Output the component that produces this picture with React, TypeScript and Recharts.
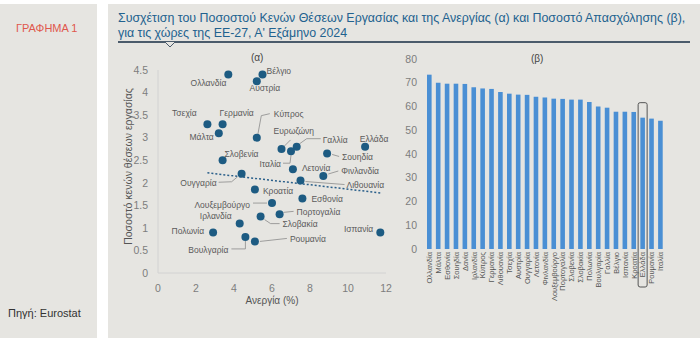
import React from 'react'
import {
  ScatterChart, Scatter, XAxis, YAxis, ReferenceLine,
  BarChart, Bar,
} from 'recharts'

// (α) job vacancy rate vs unemployment
const COUNTRIES = [
  'Ολλανδία', 'Βέλγιο', 'Αυστρία', 'Τσεχία', 'Γερμανία', 'Μάλτα', 'Κύπρος',
  'Ευρωζώνη', 'Γαλλία', 'Ιταλία', 'Λετονία', 'Ελλάδα', 'Σουηδία', 'Σλοβενία',
  'Φινλανδία', 'Ουγγαρία', 'Λιθουανία', 'Κροατία', 'Εσθονία', 'Λουξεμβούργο',
  'Πορτογαλία', 'Σλοβακία', 'Ιρλανδία', 'Πολωνία', 'Ισπανία', 'Βουλγαρία', 'Ρουμανία',
]
const UNEMPLOYMENT = [
  3.7, 5.5, 5.2, 2.6, 3.4, 3.2, 5.2,
  6.5, 7.3, 7.0, 7.1, 10.9, 8.9, 3.4,
  8.7, 4.4, 7.5, 5.1, 7.6, 6.0,
  6.4, 5.4, 4.3, 2.9, 11.7, 4.6, 5.1,
]
const VACANCY = [
  4.4, 4.4, 4.25, 3.3, 3.3, 3.1, 3.0,
  2.75, 2.8, 2.7, 2.3, 2.8, 2.65, 2.5,
  2.15, 2.2, 2.05, 1.85, 1.65, 1.55,
  1.3, 1.25, 1.1, 0.9, 0.9, 0.8, 0.7,
]
const TREND = [
  { x: 2.6, y: 2.22 },
  { x: 11.8, y: 1.77 },
]
const X_TICKS = [0, 2, 4, 6, 8, 10, 12]
const Y_TICKS = [0, 0.5, 1, 1.5, 2, 2.5, 3, 3.5, 4, 4.5]

// (β) employment rate
const BAR_COUNTRIES = [
  'Ολλανδία', 'Μάλτα', 'Εσθονία', 'Σουηδία', 'Δανία', 'Ιρλανδία', 'Κύπρος',
  'Γερμανία', 'Λιθουανία', 'Τσεχία', 'Αυστρία', 'Ουγγαρία', 'Λετονία', 'Φινλανδία',
  'Λουξεμβούργο', 'Πορτογαλία', 'Σλοβενία', 'Σλοβακία', 'Πολωνία', 'Βουλγαρία',
  'Γαλλία', 'Βέλγιο', 'Ισπανία', 'Κροατία', 'Ελλάδα', 'Ρουμανία', 'Ιταλία',
]
const EMPLOYMENT = [
  73.4, 70.0, 69.6, 69.6, 69.5, 68.1, 67.6,
  67.4, 66.1, 65.4, 65.0, 64.9, 64.1, 63.8,
  63.3, 63.2, 62.9, 62.9, 61.9, 60.0,
  59.5, 57.8, 57.8, 57.7, 55.3, 54.9, 54.0,
]
const BAR_TICKS = [0, 10, 20, 30, 40, 50, 60, 70, 80]

const scatterData = COUNTRIES.map((name, i) => ({ name, x: UNEMPLOYMENT[i], y: VACANCY[i] }))
const barData = BAR_COUNTRIES.map((name, i) => ({ name, value: EMPLOYMENT[i] }))

const FONT = '"Liberation Sans", Arial, sans-serif'
const DOT = '#1d5b82'
const BAR = '#4a8fd4'
const PANEL = '#e6e5e1'

type Layout = { dx: number; dy: number; anchor: 'start' | 'middle' | 'end'; leader?: number[][] }

const LABELS: Record<string, Layout> = {
  'Ολλανδία': { dx: -2, dy: 11, anchor: 'end' },
  'Βέλγιο': { dx: 4, dy: -1, anchor: 'start' },
  'Αυστρία': { dx: 8, dy: 9.5, anchor: 'middle' },
  'Τσεχία': { dx: -23, dy: -8, anchor: 'middle' },
  'Γερμανία': { dx: -3, dy: -8, anchor: 'start' },
  'Μάλτα': { dx: -5, dy: 7, anchor: 'end' },
  'Κύπρος': { dx: 17, dy: -21, anchor: 'start', leader: [[1, -3], [4.5, -22], [13, -24]] },
  'Ευρωζώνη': { dx: -8, dy: -15, anchor: 'start', leader: [[3, -3], [9, -9]] },
  'Γαλλία': { dx: 26, dy: -4, anchor: 'start', leader: [[3, -3], [10, -8], [24, -8]] },
  'Ιταλία': { dx: -10, dy: 15.5, anchor: 'end', leader: [[0, 4], [-1, 12], [-8, 12]] },
  'Λετονία': { dx: 9, dy: 2, anchor: 'start' },
  'Ελλάδα': { dx: 9, dy: -4.5, anchor: 'middle' },
  'Σουηδία': { dx: 15, dy: 7, anchor: 'start', leader: [[5, 1], [12, 3]] },
  'Σλοβενία': { dx: 2, dy: -3, anchor: 'start' },
  'Φινλανδία': { dx: 18, dy: -2, anchor: 'start', leader: [[5, -2], [15, -5]] },
  'Ουγγαρία': { dx: -25, dy: 12.7, anchor: 'end', leader: [[-4, 3], [-10, 8], [-23, 8.5]] },
  'Λιθουανία': { dx: 46, dy: 7, anchor: 'start', leader: [[5, 1], [44, 4]] },
  'Κροατία': { dx: 8, dy: 4.5, anchor: 'start' },
  'Εσθονία': { dx: 9, dy: 3, anchor: 'start' },
  'Λουξεμβούργο': { dx: -22, dy: 5, anchor: 'end', leader: [[-5, 0], [-19, 0]] },
  'Πορτογαλία': { dx: 17, dy: 1, anchor: 'start', leader: [[4, -2], [14, -3]] },
  'Σλοβακία': { dx: 22, dy: 10, anchor: 'start', leader: [[4, 3], [10, 7], [19, 7]] },
  'Ιρλανδία': { dx: -24, dy: -4, anchor: 'middle' },
  'Πολωνία': { dx: -9, dy: 1.5, anchor: 'end' },
  'Ισπανία': { dx: -7, dy: 0, anchor: 'end' },
  'Βουλγαρία': { dx: -17, dy: 16, anchor: 'end', leader: [[0, 4], [0, 12], [-14, 12]] },
  'Ρουμανία': { dx: 35, dy: 1, anchor: 'start', leader: [[5, 0], [32, -3]] },
}

function DotShape(props: any) {
  const { cx, cy, payload } = props
  const l = LABELS[payload.name]
  return (
    <g>
      {l && l.leader && (
        <polyline
          points={l.leader.map(p => `${cx + p[0]},${cy + p[1]}`).join(' ')}
          fill="none"
          stroke="#8a8a8a"
          strokeWidth={0.8}
        />
      )}
      <circle cx={cx} cy={cy} r={4} fill={DOT} />
      {l && (
        <text x={cx + l.dx} y={cy + l.dy} textAnchor={l.anchor} fontSize={8.5} fill="#5a5a5a" fontFamily={FONT}>
          {payload.name}
        </text>
      )}
    </g>
  )
}

function BarShape(props: any) {
  const { x, y, width, height, payload } = props
  return (
    <g>
      <rect x={x} y={y} width={width} height={height} fill={BAR} />
      {payload.name === 'Ελλάδα' && (
        <rect
          x={x + width / 2 - 4.5}
          y={y - 15}
          width={9}
          height={height + 53}
          rx={2}
          fill="none"
          stroke="#555"
          strokeWidth={1}
        />
      )}
    </g>
  )
}

function BarTick(props: any) {
  const { x, y, payload } = props
  return (
    <g transform={`translate(${x},${y})`}>
      <text transform="rotate(-90)" textAnchor="end" dy="0.35em" fontSize={7.5} fill="#555" fontFamily={FONT}>
        {payload.value}
      </text>
    </g>
  )
}

const tickStyle = { fontSize: 10.5, fill: '#7d7d7d', fontFamily: FONT }

export default function App() {
  return (
    <div style={{ position: 'absolute', left: 0, top: 0, width: 700, height: 364, background: '#fff', fontFamily: FONT, overflow: 'hidden' }}>
      <div style={{ position: 'absolute', left: 0, top: 4, width: 97, height: 334, background: PANEL }} />
      <div style={{ position: 'absolute', left: 108, top: 4, width: 592, height: 334, background: PANEL }} />

      <div style={{ position: 'absolute', left: 16, top: 22, fontSize: 11, color: '#e0574c' }}>ΓΡΑΦΗΜΑ 1</div>
      <div style={{ position: 'absolute', left: 8, top: 307, fontSize: 11, color: '#333' }}>Πηγή: Eurostat</div>

      <div style={{ position: 'absolute', left: 118, top: 11, fontSize: 12.4, lineHeight: '15px', color: '#22628f', whiteSpace: 'nowrap' }}>
        Συσχέτιση του Ποσοστού Κενών Θέσεων Εργασίας και της Ανεργίας (α) και Ποσοστό Απασχόλησης (β),
        <br />
        για τις χώρες της ΕΕ-27, Α' Εξάμηνο 2024
      </div>
      <svg style={{ position: 'absolute', left: 0, top: 0 }} width={700} height={60}>
        <line x1={118} y1={42} x2={690} y2={42} stroke="#4b5b6b" strokeWidth={2} />
        <polyline points="165,42 170,47 175,42" fill={PANEL} stroke="#4b5b6b" strokeWidth={1} />
      </svg>

      <div style={{ position: 'absolute', left: 251, top: 52, fontSize: 10, color: '#444' }}>(α)</div>
      <div style={{ position: 'absolute', left: 531, top: 53, fontSize: 10, color: '#444' }}>(β)</div>

      <div style={{ position: 'absolute', left: 108, top: 45 }}>
        <ScatterChart width={292} height={293} margin={{ top: 25, right: 14, bottom: 0, left: 0 }}>
          <XAxis
            type="number"
            dataKey="x"
            domain={[0, 12]}
            ticks={X_TICKS}
            height={65}
            tick={tickStyle}
            tickLine={false}
            tickMargin={6}
            axisLine={{ stroke: '#d2d2d2' }}
            label={{ value: 'Ανεργία (%)', position: 'insideTop', offset: 24, style: { fontSize: 10, fill: '#555', fontFamily: FONT } }}
          />
          <YAxis
            type="number"
            dataKey="y"
            domain={[0, 4.5]}
            ticks={Y_TICKS}
            width={50}
            tick={tickStyle}
            tickLine={false}
            tickMargin={4}
            axisLine={{ stroke: '#d2d2d2' }}
            label={{ value: 'Ποσοστό κενών θέσεων εργασίας', angle: -90, position: 'insideLeft', offset: 20, dy: -5, style: { textAnchor: 'middle', fontSize: 10.5, fill: '#555', fontFamily: FONT } }}
          />
          <ReferenceLine segment={TREND} stroke="#2a5f8a" strokeDasharray="2 2" strokeWidth={1.5} ifOverflow="visible" />
          <Scatter data={scatterData} shape={DotShape} isAnimationActive={false} />
        </ScatterChart>
      </div>

      <div style={{ position: 'absolute', left: 390, top: 45 }}>
        <BarChart width={300} height={293} data={barData} margin={{ top: 14, right: 25, bottom: 0, left: 0 }}>
          <XAxis
            dataKey="name"
            interval={0}
            height={89}
            tick={<BarTick />}
            tickLine={false}
            tickSize={0}
            tickMargin={3}
            axisLine={false}
          />
          <YAxis
            domain={[0, 80]}
            ticks={BAR_TICKS}
            width={35}
            tick={tickStyle}
            tickLine={false}
            axisLine={false}
          />
          <Bar dataKey="value" barSize={4.6} shape={BarShape} isAnimationActive={false} />
        </BarChart>
      </div>
    </div>
  )
}
